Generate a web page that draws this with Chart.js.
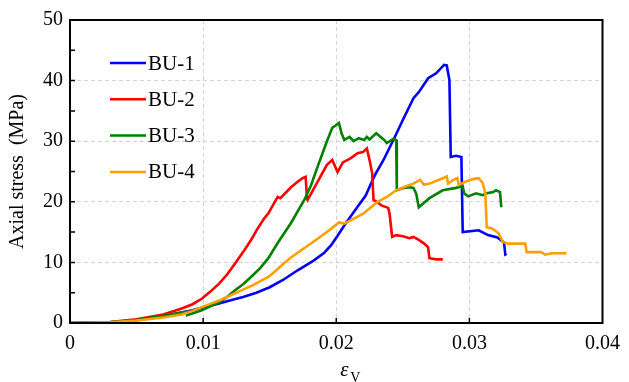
<!DOCTYPE html>
<html>
<head>
<meta charset="utf-8">
<script src="https://cdn.jsdelivr.net/npm/chart.js@4.4.1/dist/chart.umd.min.js"></script>
<style>
  html, body { margin: 0; padding: 0; background: #fff; }
  canvas { display: block; }
  .font-warm { position: absolute; left: -9999px; top: 0; font-family: "Liberation Serif", "Times New Roman", serif; font-size: 20px; }
</style>
</head>
<body>
<div class="font-warm">Axial stress 0.01 BU-1 <i>ε</i></div>
<canvas id="stressChart" width="629" height="382"></canvas>
<script>
// --- data (volumetric strain, axial stress in MPa) ---
const seriesNames = ['BU-1', 'BU-2', 'BU-3', 'BU-4'];
const seriesColors = ['#0000FF', '#FF0000', '#008000', '#FFA000'];
const xTickValues = [0, 0.01, 0.02, 0.03, 0.04];
const yTickValues = [0, 10, 20, 30, 40, 50];

const bu1Strain = [0, 0.003, 0.005, 0.007, 0.009, 0.010, 0.011, 0.012, 0.013, 0.014, 0.015, 0.016, 0.0171, 0.0183, 0.0191, 0.0196, 0.0201, 0.0206, 0.0216, 0.0222, 0.0229, 0.02355, 0.0244, 0.0250, 0.0258, 0.0262, 0.0269, 0.0275, 0.0281, 0.0283, 0.0285, 0.0286, 0.0290, 0.0294, 0.0295, 0.0307, 0.0314, 0.0321, 0.0326, 0.0327, 0.0328];
const bu1Stress = [0, 0.1, 0.45, 1.1, 2.0, 2.6, 3.1, 3.7, 4.3, 5.0, 5.9, 7.1, 8.7, 10.3, 11.6, 12.8, 14.4, 16.1, 19.2, 21.0, 24.4, 26.9, 30.7, 33.5, 37.1, 38.1, 40.4, 41.2, 42.6, 42.5, 40.1, 27.4, 27.6, 27.4, 15.0, 15.3, 14.5, 14.1, 13.3, 11.3, 11.4];

const bu2Strain = [0, 0.003, 0.005, 0.007, 0.0084, 0.0092, 0.0099, 0.0105, 0.0112, 0.0118, 0.0124, 0.0130, 0.0136, 0.0141, 0.0146, 0.0149, 0.0156, 0.0158, 0.0166, 0.0171, 0.01747, 0.0177, 0.0178, 0.01785, 0.0193, 0.0197, 0.0201, 0.0205, 0.0211, 0.0216, 0.0220, 0.0223, 0.0225, 0.0227, 0.0228, 0.02305, 0.0234, 0.0239, 0.0240, 0.0242, 0.0245, 0.0250, 0.0255, 0.0258, 0.0262, 0.0266, 0.0269, 0.0270, 0.0275, 0.0280];
const bu2Stress = [0, 0.15, 0.6, 1.4, 2.4, 3.1, 4.0, 5.1, 6.5, 8.0, 9.8, 11.7, 13.7, 15.6, 17.3, 18.1, 20.8, 20.6, 22.4, 23.3, 23.9, 24.1, 20.6, 20.3, 26.1, 26.9, 24.9, 26.5, 27.2, 28.0, 28.2, 28.8, 26.9, 24.7, 20.3, 20.0, 19.4, 19.0, 18.1, 14.2, 14.5, 14.3, 14.0, 14.2, 13.7, 13.1, 12.5, 10.7, 10.5, 10.5];

const bu3Strain = [0, 0.003, 0.005, 0.007, 0.0088, 0.0088, 0.0099, 0.0105, 0.0112, 0.0118, 0.0124, 0.0130, 0.0136, 0.0143, 0.0149, 0.0156, 0.0166, 0.0176, 0.0181, 0.0186, 0.0193, 0.0197, 0.0199, 0.0202, 0.0204, 0.0206, 0.0210, 0.0213, 0.0217, 0.0221, 0.0223, 0.0225, 0.0230, 0.0236, 0.0238, 0.0243, 0.0245, 0.02455, 0.0251, 0.0255, 0.0258, 0.0260, 0.0262, 0.0270, 0.0280, 0.0290, 0.0295, 0.0296, 0.0299, 0.0305, 0.0310, 0.0313, 0.0318, 0.0320, 0.0323, 0.0324];
const bu3Stress = [0, 0.12, 0.5, 1.2, 1.9, 1.3, 2.1, 2.7, 3.4, 4.3, 5.4, 6.4, 7.6, 9.1, 10.7, 13.2, 16.5, 20.3, 22.7, 25.8, 30.0, 32.2, 32.5, 33.0, 31.3, 30.2, 30.7, 30.0, 30.5, 30.2, 30.7, 30.3, 31.3, 30.2, 29.7, 30.4, 30.2, 21.9, 22.3, 22.4, 22.3, 21.4, 19.1, 20.6, 21.9, 22.3, 22.6, 21.4, 20.9, 21.4, 21.1, 21.4, 21.6, 21.9, 21.6, 19.1];

const bu4Strain = [0, 0.003, 0.005, 0.007, 0.0084, 0.0092, 0.010, 0.0106, 0.0112, 0.0118, 0.0124, 0.0130, 0.0136, 0.0143, 0.0149, 0.0155, 0.0161, 0.0166, 0.0171, 0.0186, 0.0196, 0.0202, 0.0206, 0.0220, 0.02305, 0.0238, 0.0245, 0.0253, 0.0258, 0.0263, 0.0266, 0.0270, 0.0277, 0.0283, 0.0284, 0.0288, 0.0291, 0.0292, 0.0297, 0.0302, 0.0307, 0.0310, 0.0312, 0.0313, 0.0317, 0.0322, 0.0325, 0.0329, 0.0342, 0.0343, 0.0354, 0.0357, 0.0362, 0.0373];
const bu4Stress = [0, 0.1, 0.4, 0.9, 1.4, 2.0, 2.7, 3.2, 3.7, 4.3, 4.9, 5.5, 6.1, 6.9, 7.6, 8.7, 9.9, 10.8, 11.6, 13.9, 15.5, 16.6, 16.4, 18.0, 19.9, 20.8, 21.9, 22.6, 23.0, 23.6, 22.8, 23.0, 23.6, 24.2, 23.0, 23.6, 23.9, 22.8, 23.3, 23.7, 23.9, 23.1, 21.4, 15.8, 15.6, 14.8, 13.4, 13.1, 13.1, 11.7, 11.7, 11.3, 11.5, 11.5];

const strainSets = [bu1Strain, bu2Strain, bu3Strain, bu4Strain];
const stressSets = [bu1Stress, bu2Stress, bu3Stress, bu4Stress];

const serif = '"Liberation Serif", "Times New Roman", serif';

function toPoints(xs, ys) {
    return xs.map((x, i) => ({ x: x, y: ys[i] }));
}

// frame, inward ticks, legend and the x-axis symbol
const decorPlugin = {
    id: 'decor',
    afterDraw(chart) {
        const ctx = chart.ctx;
        const area = chart.chartArea;
        const xs = chart.scales.x;
        const ys = chart.scales.y;
        ctx.save();

        // ticks (inward)
        ctx.strokeStyle = '#000';
        ctx.lineWidth = 1.5;
        ctx.beginPath();
        xTickValues.slice(1, -1).forEach(v => {
            const px = xs.getPixelForValue(v);
            ctx.moveTo(px, area.bottom);
            ctx.lineTo(px, area.bottom - 5);
        });
        for (let v = 5; v < 50; v += 5) {
            const py = ys.getPixelForValue(v);
            ctx.moveTo(area.left, py);
            ctx.lineTo(area.left + 5, py);
        }
        ctx.stroke();

        // frame
        ctx.lineWidth = 2;
        ctx.strokeRect(area.left, area.top, area.right - area.left, area.bottom - area.top);

        // legend
        ctx.font = '21px ' + serif;
        ctx.textBaseline = 'middle';
        ctx.textAlign = 'left';
        seriesNames.forEach((name, i) => {
            const y = area.top + 43 + i * 36.3;
            ctx.strokeStyle = seriesColors[i];
            ctx.lineWidth = 2.5;
            ctx.beginPath();
            ctx.moveTo(area.left + 40, y);
            ctx.lineTo(area.left + 76, y);
            ctx.stroke();
            ctx.fillStyle = '#000';
            ctx.fillText(name, area.left + 78, y + 1);
        });

        // x-axis title: epsilon with subscript V
        const cx = (area.left + area.right) / 2;
        ctx.textBaseline = 'alphabetic';
        ctx.font = 'italic 21px ' + serif;
        ctx.fillText('ε', cx + 4, 376);
        ctx.font = '14px ' + serif;
        ctx.fillText('V', cx + 14, 382);
        ctx.restore();
    }
};

function drawChart() {
    const canvas = document.getElementById('stressChart');
    const ctx = canvas.getContext('2d');

    const datasets = seriesNames.map((name, i) => ({
        label: name,
        data: toPoints(strainSets[i], stressSets[i]),
        borderColor: seriesColors[i],
        backgroundColor: seriesColors[i],
        borderWidth: 2.6,
        showLine: true,
        pointRadius: 0,
        tension: 0,
        order: 4 - i
    }));

    new Chart(ctx, {
        type: 'scatter',
        data: { datasets: datasets },
        options: {
            responsive: false,
            animation: false,
            devicePixelRatio: 1,
            layout: { padding: { top: 20, right: 22, left: 0, bottom: 0 } },
            plugins: {
                legend: { display: false },
                tooltip: { enabled: false }
            },
            scales: {
                x: {
                    type: 'linear',
                    min: 0,
                    max: 0.04,
                    afterBuildTicks: scale => { scale.ticks = xTickValues.map(v => ({ value: v })); },
                    ticks: {
                        color: '#000',
                        font: { family: serif, size: 20 },
                        padding: 9,
                        maxRotation: 0,
                        autoSkip: false,
                        callback: v => (v === 0 ? '0' : v.toFixed(2))
                    },
                    grid: { color: '#d4d4d4', lineWidth: 1, drawTicks: false },
                    border: { display: false, dash: [4, 3] },
                    afterFit: scale => { scale.height = 59; }
                },
                y: {
                    min: 0,
                    max: 50,
                    afterBuildTicks: scale => { scale.ticks = yTickValues.map(v => ({ value: v })); },
                    ticks: {
                        color: '#000',
                        font: { family: serif, size: 20 },
                        padding: 7
                    },
                    grid: { color: '#d4d4d4', lineWidth: 1, drawTicks: false },
                    border: { display: false, dash: [4, 3] },
                    title: {
                        display: true,
                        text: 'Axial stress  (MPa)',
                        color: '#000',
                        font: { family: serif, size: 20 },
                        padding: { top: 6, bottom: 0 }
                    },
                    afterFit: scale => { scale.width = 70; }
                }
            }
        },
        plugins: [decorPlugin]
    });
}

if (document.fonts && document.fonts.load) {
    Promise.all([
        document.fonts.load('20px "Liberation Serif"'),
        document.fonts.load('italic 20px "Liberation Serif"')
    ]).then(drawChart, drawChart);
} else {
    drawChart();
}
</script>
</body>
</html>
